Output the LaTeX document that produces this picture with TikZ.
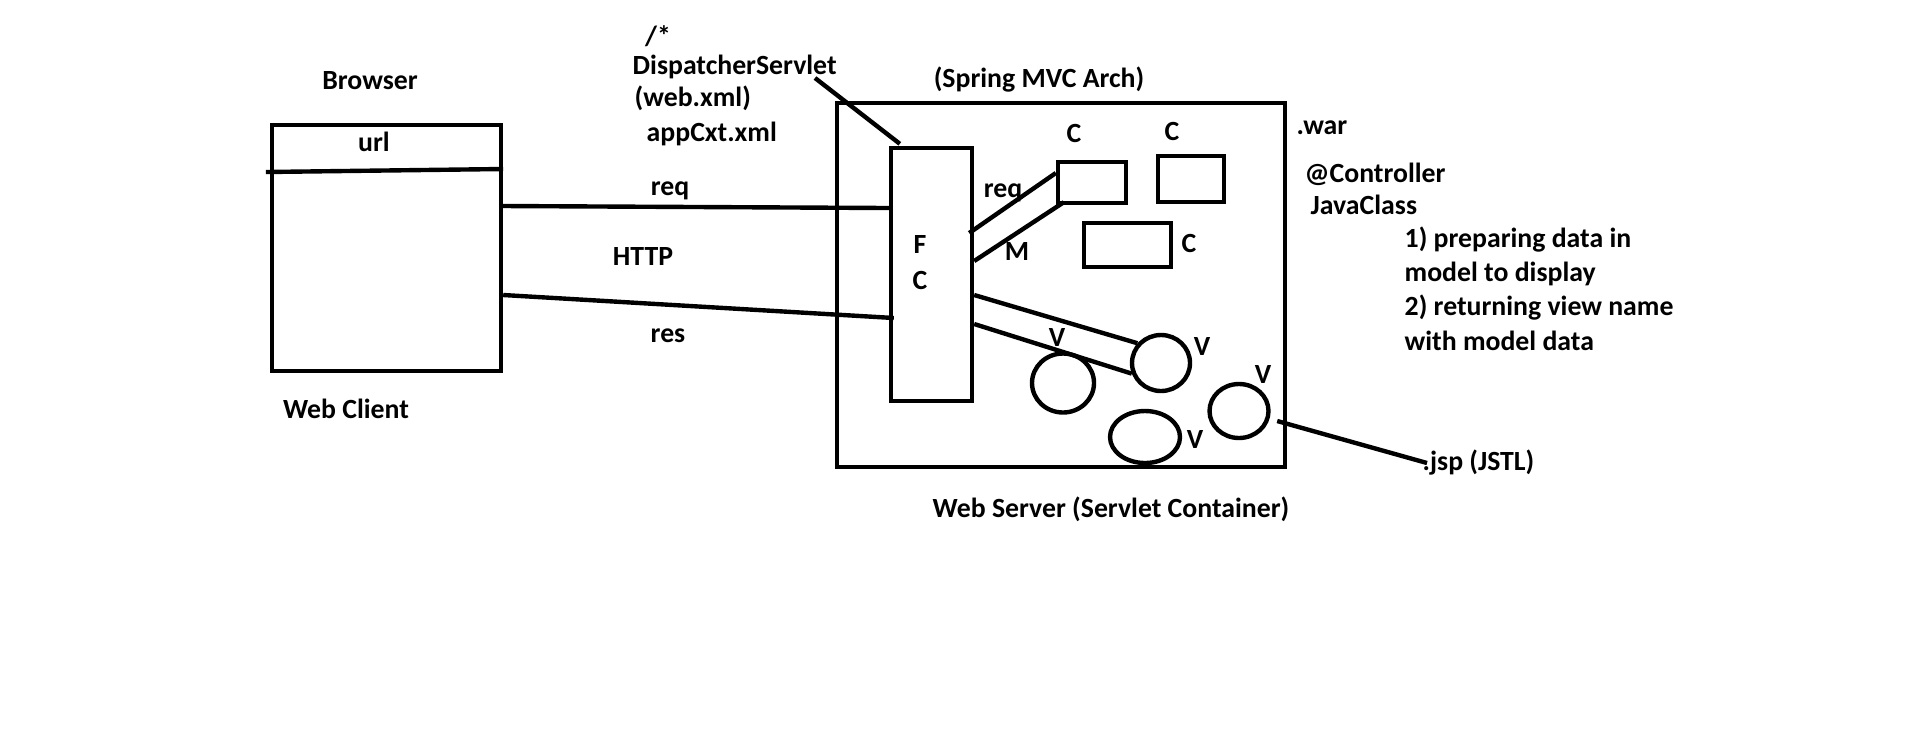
\documentclass[tikz,border=0pt]{standalone}
\usepackage{fontspec}
\setmainfont{Carlito}
\usetikzlibrary{shapes.geometric}
\tikzset{box/.style={draw, line width=1.25pt, inner sep=0pt},
  view/.style={draw, ellipse, line width=1.25pt, inner sep=0pt},
  wire/.style={line width=1.25pt},
  lbl/.style={font=\bfseries\fontsize{7.9}{9.77}\selectfont, inner sep=0pt}}

\begin{document}
\begin{tikzpicture}[every node/.style={lbl}]
      \useasboundingbox (0, 0) rectangle (19.09, 7.52);

      \node [box, minimum width=2.29cm, minimum height=2.46cm] (browser) at (3.865, 5.04) {};
      \draw [wire] ([shift={(-0.04, 0.76)}]browser.west) -- ([yshift=0.79cm]browser.east);
      \node at (3.74, 6.10) {url};
      \node at (3.70, 6.71) {Browser};
      \node at (3.46, 3.43) {Web Client};

      \node [box, minimum width=4.48cm, minimum height=3.64cm] (server) at (10.61, 4.67) {};
      \node at (10.39, 6.72) {(Spring MVC Arch)};
      \node at (11.11, 2.43) {Web Server (Servlet Container)};

      \node [box, minimum width=0.81cm, minimum height=2.53cm] (fc) at (9.315, 4.775) {};
      \node at (9.20, 5.08) {F};
      \node at (9.20, 4.72) {C};

      \node [box, minimum width=0.68cm, minimum height=0.41cm] (c1) at (10.92, 5.695) {};
      \node [box, minimum width=0.66cm, minimum height=0.46cm] (c2) at (11.91, 5.73) {};
      \node [box, minimum width=0.87cm, minimum height=0.44cm] (c3) at (11.275, 5.07) {};
      \node at (10.74, 6.19) {C};
      \node at (11.72, 6.21) {C};
      \node at (11.89, 5.09) {C};

      \node [view, minimum width=0.58cm, minimum height=0.56cm] (v1) at (11.61, 3.89) {};
      \node [view, minimum width=0.62cm, minimum height=0.59cm] (v2) at (10.63, 3.69) {};
      \node [view, minimum width=0.70cm, minimum height=0.52cm] (v3) at (11.45, 3.15) {};
      \node [view, minimum width=0.59cm, minimum height=0.54cm] (v4) at (12.39, 3.41) {};
      \node at (12.02, 4.06) {V};
      \node at (10.57, 4.15) {V};
      \node at (11.95, 3.13) {V};
      \node at (12.63, 3.78) {V};

      \node at (6.58, 7.16) {/*};
      \node [anchor=west] (ds) at (6.32, 6.85) {DispatcherServlet};
      \node [anchor=west] at (6.34, 6.54) {(web.xml)};
      \node [anchor=west] at (6.46, 6.18) {appCxt.xml};
      \coordinate (dsend) at (8.15, 6.74);
      \draw [wire] (dsend) -- ([shift={(0.11, 0.02)}]fc.north west);

      \draw [wire] ([yshift=0.42cm]browser.east) -- ([yshift=0.665cm]fc.west);
      \draw [wire] ([yshift=-0.47cm]browser.east) -- ([shift={(0.05, -0.435)}]fc.west);
      \node at (6.70, 5.61) {req};
      \node at (6.43, 4.96) {HTTP};
      \node at (6.68, 4.16) {res};

      \draw [wire] ([shift={(-0.05, 0.415)}]fc.east) -- ([yshift=0.095cm]c1.west);
      \draw [wire] ([yshift=0.135cm]fc.east) -- ([shift={(0.08, 0.03)}]c1.south west);
      \node at (10.03, 5.59) {req};
      \node at (10.17, 5.01) {M};

      \draw [wire] ([yshift=-0.205cm]fc.east) -- (v1.140);
      \draw [wire] ([yshift=-0.495cm]fc.east) -- (v1.200);

      \node [anchor=west] at (12.96, 6.24) {.war};
      \node [anchor=west] at (13.04, 5.78) {@Controller};
      \node [anchor=west] at (13.10, 5.47) {JavaClass};
      \node [anchor=west, align=left] at (14.04, 4.635) {1) preparing data in\\model to display\\2) returning view name\\with model data};

      \node [anchor=west] (jsp) at (14.22, 2.89) {.jsp (JSTL)};
      \draw [wire] ([shift={(0.065, -0.10)}]v4.east) -- ([xshift=0.05cm]jsp.west);
    \end{tikzpicture}
\end{document}
